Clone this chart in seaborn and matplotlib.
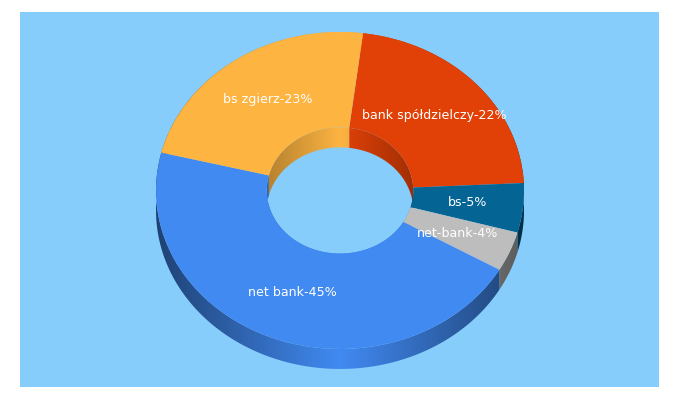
import numpy as np
import seaborn as sns
import matplotlib.pyplot as plt
from matplotlib.colors import to_rgb
from matplotlib.patches import Polygon

labels = ["bank spółdzielczy-22%", "bs-5%", "net-bank-4%", "net bank-45%", "bs zgierz-23%"]
shares = [22.25, 5.03, 4.06, 45.5, 23.16]
colors = ["#e14107", "#046595", "#bdbdbd", "#418af2", "#fdb441"]
background = "#87cdfc"

first_angle = 7.2  # degrees clockwise from 12 o'clock
hole = 0.398
depth = 0.126

sns.set_theme(style="white")

fig = plt.figure(figsize=(6.8, 4), dpi=100)
ax = fig.add_axes([20 / 680, 1 - 387 / 400, 639 / 680, 375 / 400], facecolor=background)

wedges, texts = ax.pie(
    shares,
    labels=labels,
    colors=colors,
    startangle=90 - first_angle,
    counterclock=False,
    labeldistance=0.695,
    radius=1,
    frame=True,
    wedgeprops={"width": 1 - hole, "linewidth": 0, "zorder": 4},
    textprops={"color": "white", "fontsize": 9.1, "family": "DejaVu Sans", "zorder": 5},
)
for t in texts:
    t.set_ha("center")
    t.set_va("center")


def draw_wall(start, stop, color, radius, darken):
    # side wall of one slice, shaded from the middle out to both edges
    angles = np.radians(np.linspace(start, stop, 120))
    x = radius * np.sin(angles)
    y = radius * np.cos(angles)
    points = np.r_[np.c_[x, y], np.c_[x[::-1], y[::-1] - depth]]
    shape = Polygon(points, closed=True, facecolor="none", edgecolor="none", zorder=1)
    ax.add_patch(shape)

    shade = 1 - darken * np.abs(np.linspace(-1, 1, 256))
    strip = shade[None, :, None] * np.array(to_rgb(color))
    img = ax.imshow(strip, extent=(-radius, radius, -1 - depth, 1), aspect="auto", zorder=1)
    img.set_clip_path(shape)


edges = first_angle + 3.6 * np.r_[0, np.cumsum(shares)]
for start, stop, color in zip(edges[:-1], edges[1:], colors):
    draw_wall(start, stop, color, 1, 0.52)
    draw_wall(start, stop, color, hole, 0.28)

# one data unit is 184 px across and 158.5 px up, that gives the tilt
ax.set_aspect("auto")
ax.set_xlim((20 - 340) / 184, (659 - 340) / 184)
ax.set_ylim((190.5 - 387) / 158.5, (190.5 - 12) / 158.5)
ax.set_xticks([])
ax.set_yticks([])
sns.despine(ax=ax, left=True, bottom=True)

fig.savefig("out.png", dpi=100, facecolor="white")
